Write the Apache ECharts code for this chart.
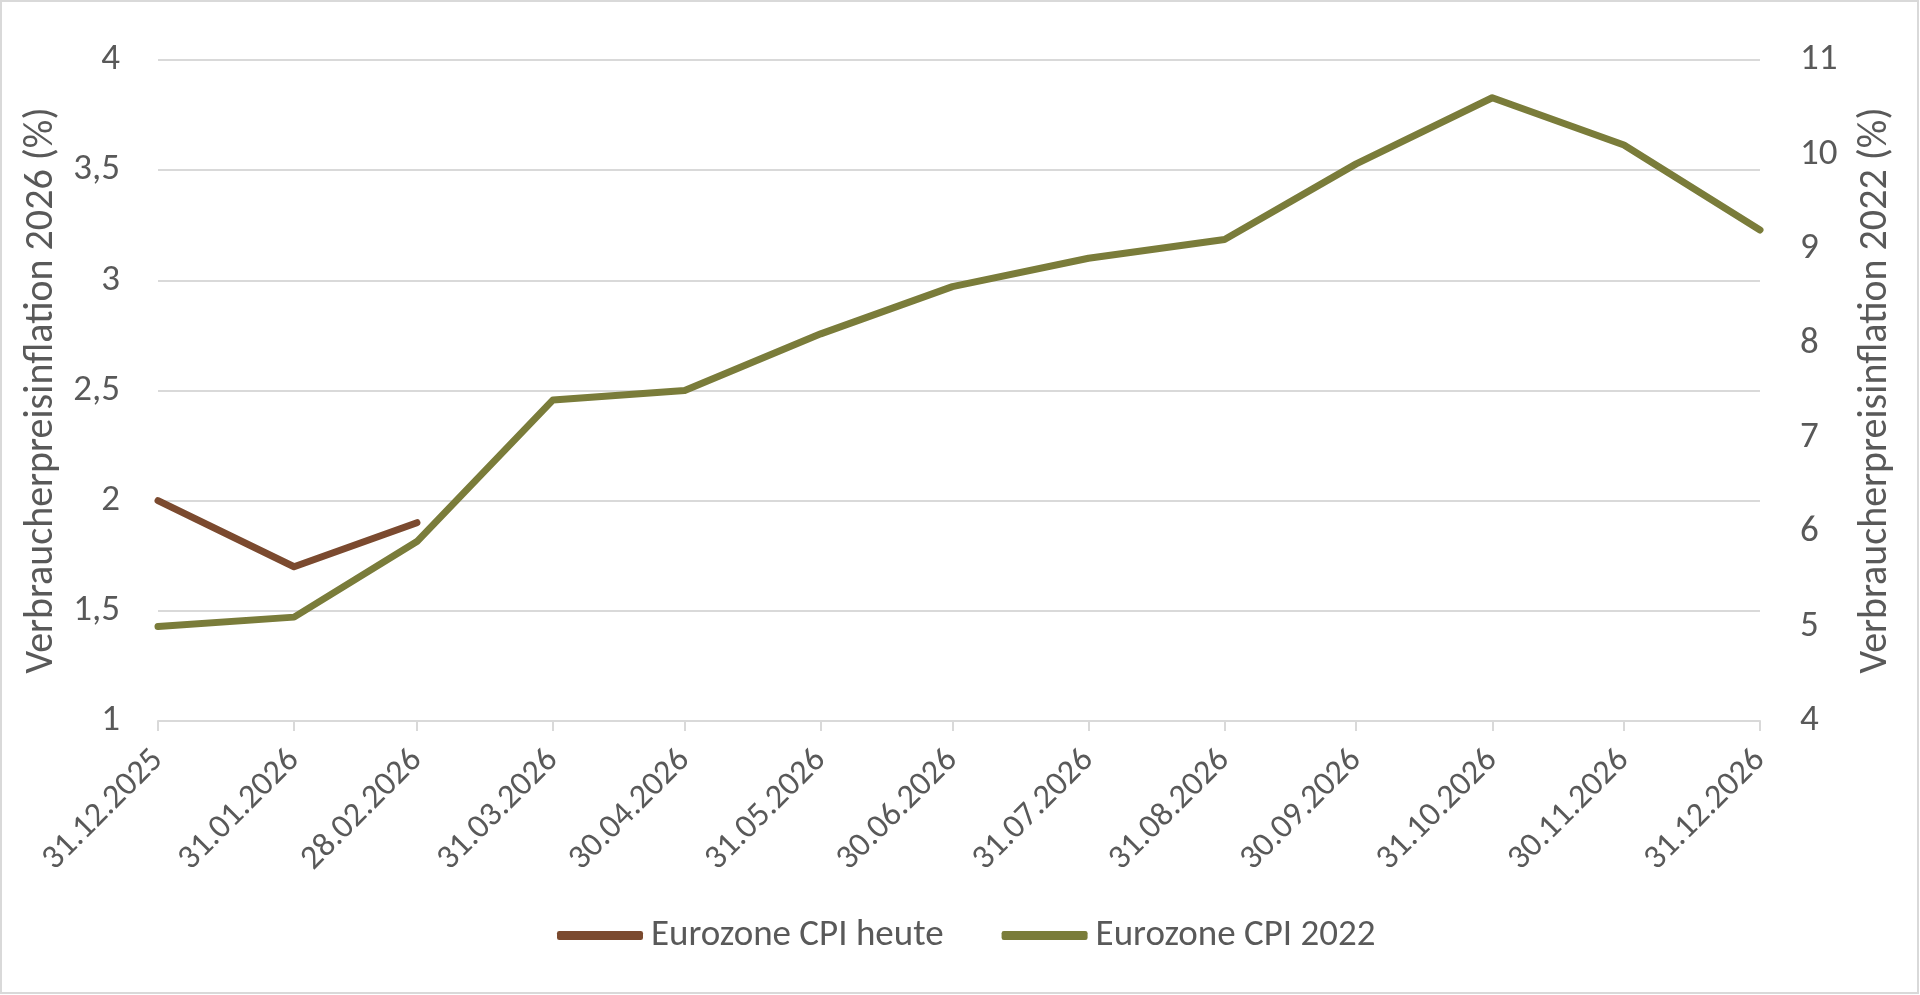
<!DOCTYPE html>
<html>
<head>
<meta charset="utf-8">
<script src="https://cdn.jsdelivr.net/npm/echarts@6/dist/echarts.min.js"></script>
<style>
html,body{margin:0;padding:0;background:#fff;}
#chart{width:1920px;height:995px;}
</style>
</head>
<body>
<div id="chart"></div>
<script>
// Data
const dates = ['2025-12-31','2026-01-31','2026-02-28','2026-03-31','2026-04-30','2026-05-31','2026-06-30','2026-07-31','2026-08-31','2026-09-30','2026-10-31','2026-11-30','2026-12-31'];
const cpiHeute = [2.0, 1.7, 1.9];
const cpi2022 = [5.0, 5.1, 5.9, 7.4, 7.5, 8.1, 8.6, 8.9, 9.1, 9.9, 10.6, 10.1, 9.2];
const seriesNames = ['Eurozone CPI heute', 'Eurozone CPI 2022'];
const leftAxisName = 'Verbraucherpreisinflation 2026 (%)';
const rightAxisName = 'Verbraucherpreisinflation 2022 (%)';

function ts(s){ const p = s.split('-').map(Number); return Date.UTC(p[0], p[1]-1, p[2]); }
const times = dates.map(ts);
function fmt(v){ const d = new Date(v); const dd = String(d.getUTCDate()).padStart(2,'0'); const mm = String(d.getUTCMonth()+1).padStart(2,'0'); return dd + '.' + mm + '.' + d.getUTCFullYear(); }

const FONT = 'Carlito, Lato, sans-serif';
const TXT = '#595959';
const GRID = '#D9D9D9';
const FS = 37;

const chart = echarts.init(document.getElementById('chart'), null, {renderer:'canvas'});
chart.setOption({
  animation: false,
  backgroundColor: '#fff',
  textStyle: {fontFamily: FONT, color: TXT},
  graphic: [{type:'rect', shape:{x:1, y:1, width:1917, height:992}, style:{fill:'none', stroke:GRID, lineWidth:2}, silent:true}],
  grid: {left:158, right:160, top:60, bottom:274, containLabel:false},
  legend: {
    top: 912, left: 552,
    itemWidth: 86, itemHeight: 9, itemGap: 58,
    icon: 'roundRect',
    textStyle: {fontFamily: FONT, fontSize: FS, color: TXT, padding:[0,0,0,3]},
    data: seriesNames
  },
  xAxis: {
    type: 'value',
    min: times[0], max: times[times.length-1],
    axisLine: {show:true, lineStyle:{color:GRID, width:2}},
    axisTick: {show:true, length:10, lineStyle:{color:GRID, width:2}, customValues: times},
    axisLabel: {customValues: times, formatter: fmt, rotate: 45, margin: 34, fontFamily: FONT, fontSize: 34, color: TXT, hideOverlap:false},
    splitLine: {show:false}
  },
  yAxis: [
    {
      type:'value', min:1, max:4, interval:0.5, position:'left',
      name: leftAxisName, nameLocation:'middle', nameGap:92, nameRotate:90,
      nameTextStyle:{fontFamily:FONT, fontSize:40, color:TXT},
      axisLine:{show:false}, axisTick:{show:false},
      axisLabel:{fontFamily:FONT, fontSize:FS, color:TXT, margin:38, formatter: v => String(v).replace('.', ',')},
      splitLine:{show:true, lineStyle:{color:GRID, width:2}}
    },
    {
      type:'value', min:4, max:11, interval:1, position:'right',
      name: rightAxisName, nameLocation:'middle', nameGap:96, nameRotate:90,
      nameTextStyle:{fontFamily:FONT, fontSize:40, color:TXT},
      axisLine:{show:false}, axisTick:{show:false},
      axisLabel:{fontFamily:FONT, fontSize:FS, color:TXT, margin:40},
      splitLine:{show:false}
    }
  ],
  series: [
    {
      name: seriesNames[0], type:'line', yAxisIndex:0, showSymbol:false, symbol:'none',
      data: cpiHeute.map((v,i) => [times[i], v]),
      itemStyle:{color:'#7B4A2F'},
      lineStyle:{color:'#7B4A2F', width:7, cap:'round', join:'round'},
      z: 3
    },
    {
      name: seriesNames[1], type:'line', yAxisIndex:1, showSymbol:false, symbol:'none',
      data: cpi2022.map((v,i) => [times[i], v]),
      itemStyle:{color:'#7A7C3A'},
      lineStyle:{color:'#7A7C3A', width:7, cap:'round', join:'round'},
      z: 2
    }
  ]
});
</script>
</body>
</html>
